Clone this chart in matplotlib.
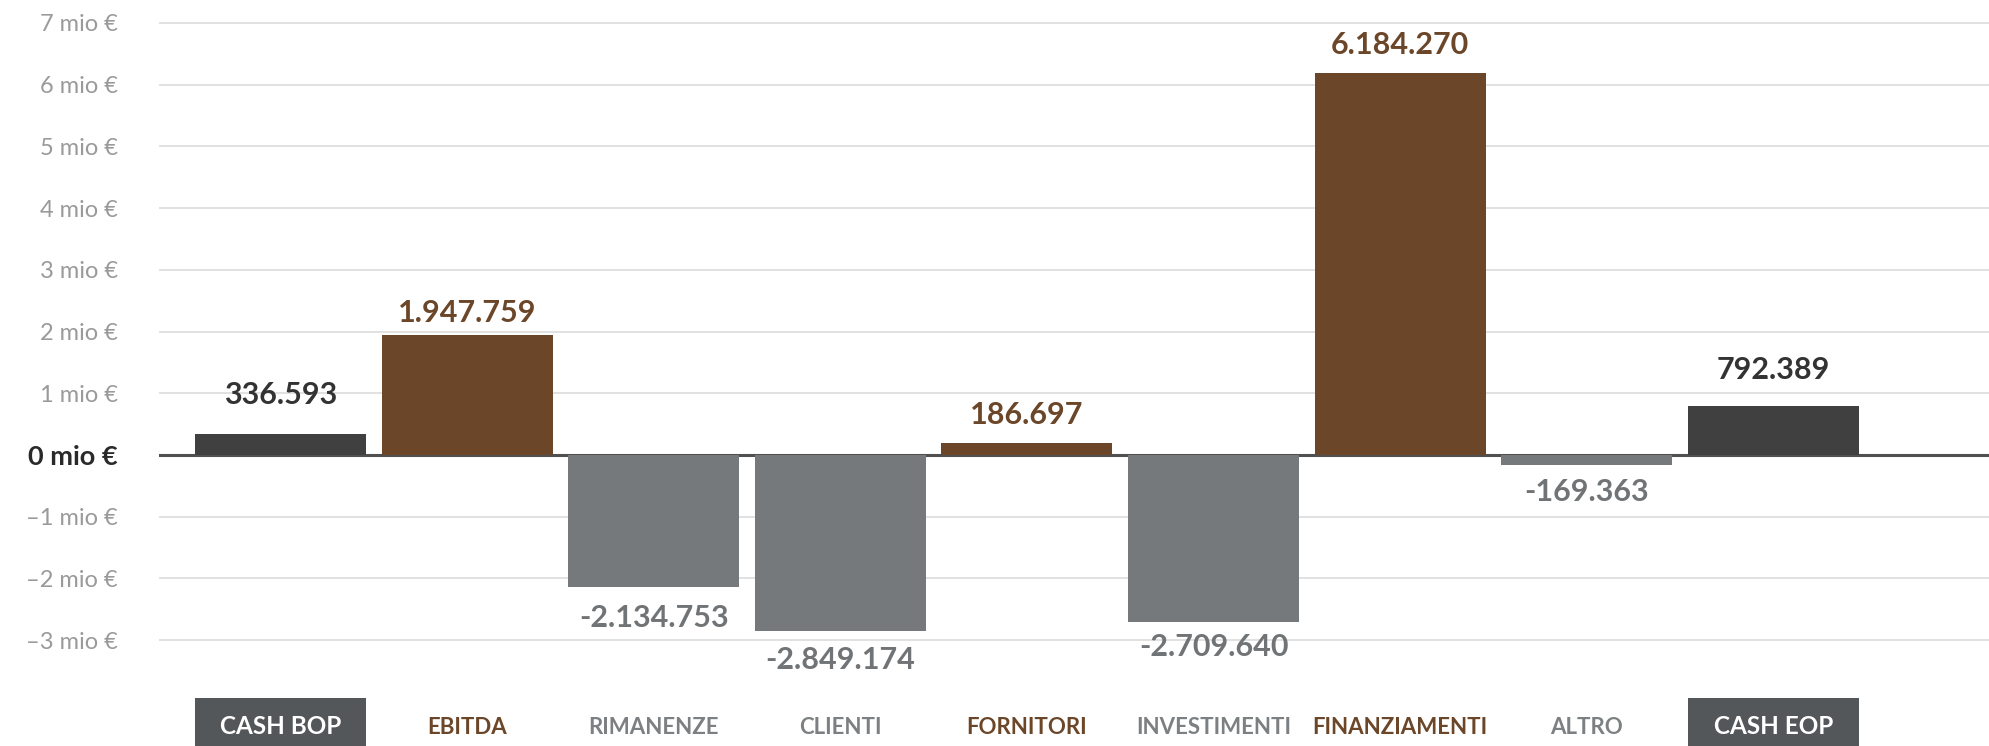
import matplotlib
matplotlib.use("Agg")
import matplotlib.pyplot as plt
from matplotlib.patches import Rectangle

# ---- data ----
categories = ['CASH BOP', 'EBITDA', 'RIMANENZE', 'CLIENTI', 'FORNITORI',
              'INVESTIMENTI', 'FINANZIAMENTI', 'ALTRO', 'CASH EOP']
values = [336593, 1947759, -2134753, -2849174, 186697,
          -2709640, 6184270, -169363, 792389]
kinds = ['cash', 'in', 'out', 'out', 'in', 'out', 'in', 'out', 'cash']
y_ticks = [-3, -2, -1, 0, 1, 2, 3, 4, 5, 6, 7]
y_tick_labels = ['–3 mio €', '–2 mio €', '–1 mio €', '0 mio €', '1 mio €', '2 mio €',
                 '3 mio €', '4 mio €', '5 mio €', '6 mio €', '7 mio €']

# ---- styles ----
label_offsets_px = [30, 13, 17, 15, 19, 11, 19, 13, 27]
bar_colors = {'cash': '#404040', 'in': '#6b4629', 'out': '#75797b'}
value_colors = {'cash': '#333333', 'in': '#6b4629', 'out': '#717476'}
cat_colors = {'cash': '#ffffff', 'in': '#6b4629', 'out': '#7d8082'}
cat_sizes = {'cash': 17.5, 'in': 16, 'out': 16}
FONT = ['Lato', 'DejaVu Sans']

plt.rcParams['font.family'] = FONT

fig = plt.figure(figsize=(19.9, 7.46), dpi=100)
ax = fig.add_axes([159 / 1990, 0, 1 - 159 / 1990, 1])
ax.set_xlim(-0.651, 9.161)
ax.set_ylim(-4.713, 7.369)

x = list(range(len(categories)))
vals_mio = [v / 1e6 for v in values]
width = 0.917

ax.bar(x, vals_mio, width=width, color=[bar_colors[k] for k in kinds], zorder=2)

# grid & zero line
ax.set_yticks(y_ticks)
ax.set_yticklabels(y_tick_labels)
for yt in y_ticks:
    if yt == 0:
        ax.axhline(0, color='#505050', lw=2.2, zorder=1)
    else:
        ax.axhline(yt, color='#dcdcdc', lw=1.2, zorder=0)

ax.tick_params(axis='y', length=0, pad=29.5, labelsize=17, labelcolor='#9a9a9a')
ax.set_xticks([])
for s in ax.spines.values():
    s.set_visible(False)
for lab, yt in zip(ax.get_yticklabels(), y_ticks):
    if yt == 0:
        lab.set_fontweight('bold')
        lab.set_color('#2a2a2a')
        lab.set_fontsize(19.5)

# value labels
for xi, v, vm, k, off in zip(x, values, vals_mio, kinds, label_offsets_px):
    txt = f"{v:,}".replace(',', '.')
    if v >= 0:
        ax.annotate(txt, (xi, vm), xytext=(0, off), textcoords='offset pixels',
                    ha='center', va='baseline', fontsize=22, fontweight='bold',
                    color=value_colors[k], zorder=3)
    else:
        ax.annotate(txt, (xi, vm), xytext=(0, -off), textcoords='offset pixels',
                    ha='center', va='top', fontsize=22, fontweight='bold',
                    color=value_colors[k], zorder=3)

# category labels
for xi, c, k in zip(x, categories, kinds):
    if k == 'cash':
        ax.add_patch(Rectangle((xi - width / 2, -5.5), width, 5.5 - 3.936,
                               facecolor='#545759', edgecolor='none',
                               clip_on=False, zorder=2))
    ax.text(xi, -4.519, c, ha='center', va='baseline', fontsize=cat_sizes[k],
            fontweight='bold', color=cat_colors[k], zorder=3)

fig.savefig('out.png', dpi=100)
